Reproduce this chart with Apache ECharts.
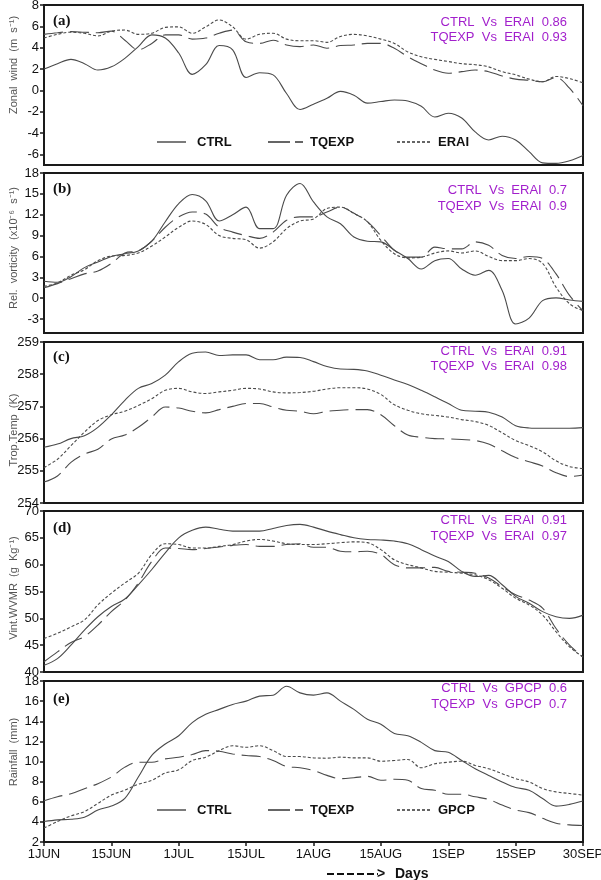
<!DOCTYPE html>
<html>
<head>
<meta charset="utf-8">
<script src="https://cdn.jsdelivr.net/npm/echarts@6/dist/echarts.min.js"></script>
<style>
html,body{margin:0;padding:0;background:#fff;}
#chart{width:601px;height:880px;}
</style>
</head>
<body>
<div id="chart"></div>
<script>
// ---- Data ----
const xDays = [0,3,6,9,12,15,18,21,24,27,30,33,36,39,42,45,48,51,54,57,60,63,66,69,72,75,78,81,84,87,90,93,96,99,102,105,108,111,114,117,120];
const xTickLabels = ['1JUN','15JUN','1JUL','15JUL','1AUG','15AUG','1SEP','15SEP','30SEP'];

// (a) Zonal wind
const aCTRL = [2.0,2.5,2.9,2.5,1.9,2.2,3.0,4.1,5.2,4.9,3.5,1.5,2.4,4.2,3.8,1.2,1.65,1.45,-0.3,-1.8,
  -1.3,-0.75,-0.1,-0.45,-1.2,-1.05,-0.9,-1.0,-1.5,-2.5,-2.15,-2.6,-3.9,-4.65,-4.3,-4.65,-5.75,-6.8,-6.85,-6.6,-6.1];
const aTQEXP = [5.25,5.4,5.5,5.45,5.4,5.55,4.7,3.8,4.4,5.2,5.2,4.8,4.9,5.35,5.65,4.55,4.4,4.7,4.25,4.1,
  4.25,3.95,4.2,4.25,4.4,4.4,3.95,3.15,2.5,1.9,1.6,1.75,1.9,1.75,1.35,1.05,0.95,0.8,1.2,0.2,-1.45];
const aERAI = [4.9,5.25,5.45,5.35,5.1,5.55,5.65,5.25,5.35,5.9,5.95,5.35,5.95,6.6,5.95,4.8,5.25,5.35,4.8,4.65,
  4.65,4.5,5.05,5.25,5.1,4.8,4.4,3.6,3.15,2.9,2.7,2.5,2.4,2.2,1.75,1.45,1.05,0.8,1.3,1.1,0.7];

// (b) Relative vorticity
const bCTRL = [2.45,2.3,3.1,4.4,5.2,6.0,6.4,6.8,8.2,11.0,13.6,14.9,14.0,11.1,12.0,13.1,10.0,10.0,14.8,16.5,
  13.85,11.7,10.7,8.8,8.2,8.1,6.9,5.7,4.2,5.4,5.7,4.2,3.3,4.0,1.1,-3.7,-2.85,-0.35,0.05,-0.25,-0.45];
const bTQEXP = [1.5,2.1,2.8,3.5,3.9,5.0,6.5,6.8,8.2,10.2,11.7,12.4,12.1,10.2,9.5,9.0,8.6,9.5,11.2,11.7,
  11.7,12.4,13.1,12.2,11.0,9.0,6.9,5.9,5.9,7.35,7.1,7.1,8.1,7.6,6.15,5.7,6.0,5.7,3.5,0.4,-1.8];
const bERAI = [1.7,2.2,3.3,4.1,5.4,6.05,6.15,6.5,7.5,8.8,10.2,11.1,10.6,9.0,8.6,8.4,7.2,8.1,10.0,11.1,
  11.4,12.9,13.1,12.2,11.0,8.3,6.4,5.8,5.9,6.5,6.8,6.5,6.8,6.0,5.4,5.4,5.7,5.0,1.6,-0.8,-1.8];

// (c) Tropospheric temperature
const cCTRL = [255.73,255.83,256.0,256.09,256.35,256.74,257.19,257.56,257.71,257.97,258.39,258.65,258.69,258.58,258.6,258.6,258.45,258.45,258.53,258.52,
  258.39,258.24,258.16,258.15,258.1,257.97,257.82,257.68,257.5,257.3,257.09,256.88,256.85,256.82,256.67,256.4,256.33,256.32,256.32,256.32,256.34];
const cTQEXP = [254.65,254.84,255.26,255.52,255.67,255.99,256.11,256.35,256.67,256.98,256.95,256.85,256.8,256.9,257.0,257.09,257.09,256.98,256.88,256.85,
  256.77,256.85,256.88,256.9,256.9,256.74,256.4,256.11,256.04,256.0,255.99,255.97,255.94,255.83,255.62,255.41,255.28,255.15,254.94,254.82,254.87];
const cERAI = [255.1,255.36,255.78,256.2,256.56,256.74,256.85,257.03,257.24,257.5,257.56,257.45,257.4,257.45,257.5,257.56,257.54,257.45,257.42,257.43,
  257.47,257.54,257.58,257.58,257.54,257.37,257.05,256.88,256.77,256.72,256.67,256.59,256.53,256.41,256.18,255.94,255.78,255.59,255.31,255.13,255.07];

// (d) Vertically integrated WVMR
const dCTRL = [41.25,42.5,45.0,47.8,50.3,52.2,53.6,56.25,59.1,62.2,65.0,66.4,67.0,66.6,66.25,66.25,66.25,66.75,67.3,67.5,
  67.0,66.25,65.6,65.0,64.7,64.6,64.4,63.9,62.8,61.6,60.6,58.75,57.8,58.0,56.25,54.1,52.8,51.25,50.3,50.0,50.6];
const dTQEXP = [41.9,43.75,45.5,46.6,48.75,51.25,53.4,56.6,60.6,63.1,63.0,62.8,63.0,63.3,63.6,63.75,63.4,63.4,63.75,63.9,
  63.25,63.25,62.5,62.4,62.5,61.9,60.0,59.4,59.4,59.5,58.75,58.6,58.4,57.5,55.9,54.4,53.4,51.9,48.1,45.0,42.8];
const dERAI = [46.25,47.2,48.4,49.7,52.5,54.7,56.6,58.4,61.9,63.9,63.75,63.1,63.1,63.4,63.75,64.4,64.7,64.4,63.9,63.75,
  63.75,63.9,64.1,64.25,64.1,62.8,60.9,60.0,59.4,58.75,58.6,58.4,58.1,57.2,55.6,53.75,52.5,50.6,47.5,44.7,42.8];

// (e) Rainfall
const eCTRL = [4.03,4.2,4.26,4.46,5.18,5.57,6.33,8.46,10.6,11.74,12.56,13.87,14.69,15.18,15.67,16.0,16.5,16.59,17.48,16.82,
  16.6,16.82,16.0,15.18,14.2,13.7,12.79,12.56,11.9,11.08,10.92,10.1,9.28,8.62,7.97,7.41,7.15,6.33,5.57,5.74,6.07];
const eTQEXP = [6.1,6.5,6.8,7.3,7.8,8.46,9.44,9.93,9.93,10.26,10.43,10.69,11.08,11.02,10.75,10.59,10.49,10.1,9.51,9.38,
  9.11,8.62,8.3,8.39,8.52,8.13,8.23,8.13,7.31,7.15,6.75,6.75,6.49,6.23,5.67,5.18,4.92,4.36,3.87,3.7,3.64];
const eGPCP = [3.38,4.03,4.59,5.02,5.84,6.66,7.15,7.74,8.13,8.85,9.18,10.1,10.43,11.08,11.57,11.41,11.57,11.08,10.49,10.49,
  10.36,10.33,10.43,10.36,10.36,10.03,10.1,10.2,9.38,9.77,9.93,10.03,9.61,9.28,8.79,8.3,7.97,7.31,6.98,6.82,6.66];

// Tick labels for the y axes
const aTicks = [-6,-4,-2,0,2,4,6,8];
const bTicks = [-3,0,3,6,9,12,15,18];
const cTicks = [254,255,256,257,258,259];
const dTicks = [40,45,50,55,60,65,70];
const eTicks = [2,4,6,8,10,12,14,16,18];

const panelLetters = ['(a)','(b)','(c)','(d)','(e)'];
const yNames = ['Zonal  wind  (m  s\u207B\u00B9)','Rel.  vorticity  (x10\u207B\u2076  s\u207B\u00B9)','Trop.Temp  (K)','Vint.WVMR  (g  Kg\u207B\u00B9)','Rainfall  (mm)'];
const corrText = [
  ['CTRL  Vs  ERAI  0.86','TQEXP  Vs  ERAI  0.93'],
  ['CTRL  Vs  ERAI  0.7','TQEXP  Vs  ERAI  0.9'],
  ['CTRL  Vs  ERAI  0.91','TQEXP  Vs  ERAI  0.98'],
  ['CTRL  Vs  ERAI  0.91','TQEXP  Vs  ERAI  0.97'],
  ['CTRL  Vs  GPCP  0.6','TQEXP  Vs  GPCP  0.7']
];
const seriesNames = [['CTRL','TQEXP','ERAI'],['CTRL','TQEXP','ERAI'],['CTRL','TQEXP','ERAI'],['CTRL','TQEXP','ERAI'],['CTRL','TQEXP','GPCP']];

// ---- Layout ----
const panels = [
  {top:5,   height:160, min:-7,  max:8,   ticks:aTicks, data:[aCTRL,aTQEXP,aERAI], nameY:65,  letterY:21,  corrY:[22,37]},
  {top:173, height:160, min:-5,  max:18,  ticks:bTicks, data:[bCTRL,bTQEXP,bERAI], nameY:248, letterY:189, corrY:[190,206]},
  {top:342, height:161, min:254, max:259, ticks:cTicks, data:[cCTRL,cTQEXP,cERAI], nameY:430, letterY:357, corrY:[351,366]},
  {top:511, height:161, min:40,  max:70,  ticks:dTicks, data:[dCTRL,dTQEXP,dERAI], nameY:588, letterY:528, corrY:[520,536]},
  {top:681, height:161, min:2,   max:18,  ticks:eTicks, data:[eCTRL,eTQEXP,eGPCP], nameY:752, letterY:699, corrY:[688,704]}
];
const lineStyles = [
  {type:'solid', width:1.1, color:'#4a4a4a'},
  {type:[19,7], width:1.1, color:'#4a4a4a'},
  {type:[3,2], width:1.1, color:'#4a4a4a'}
];
const FONT = "'Liberation Sans', Arial, sans-serif";
const MAG = '#a21fcc';

const grid=[], xAxis=[], yAxis=[], series=[], graphic=[];
panels.forEach((p,i)=>{
  grid.push({left:44, right:18, top:p.top, height:p.height, show:true, borderColor:'#1a1a1a', borderWidth:2,
    backgroundColor:'#fff', containLabel:false, outerBoundsMode:'none'});
  const last = i===panels.length-1;
  xAxis.push({type:'value', gridIndex:i, min:0, max:120, interval:15,
    axisLine:{show:false}, splitLine:{show:false},
    axisTick:{show:last, inside:false, length:4, lineStyle:{color:'#1a1a1a', width:1.5}},
    axisLabel:{show:last, margin:6, color:'#111', fontFamily:FONT, fontSize:13, hideOverlap:false,
      formatter:(v)=>xTickLabels[Math.round(v/15)] || ''}
  });
  yAxis.push({type:'value', gridIndex:i, min:p.min, max:p.max,
    axisLine:{show:false}, splitLine:{show:false},
    axisTick:{show:true, inside:false, length:4, customValues:p.ticks, lineStyle:{color:'#1a1a1a', width:1.5}},
    axisLabel:{show:true, margin:5, customValues:p.ticks, color:'#111', fontFamily:FONT, fontSize:13}
  });
  p.data.forEach((arr,k)=>{
    series.push({type:'line', name:seriesNames[i][k]+i, xAxisIndex:i, yAxisIndex:i,
      data:xDays.map((d,j)=>[d,arr[j]]), smooth:0.35, showSymbol:false, symbol:'none',
      lineStyle:lineStyles[k], silent:true, animation:false, z:3});
  });
  graphic.push({type:'text', x:14, y:p.nameY, rotation:Math.PI/2,
    style:{text:yNames[i], fill:'#555', font:"11px "+FONT, textAlign:'center', textVerticalAlign:'middle'}});
  graphic.push({type:'text', x:53, y:p.letterY,
    style:{text:panelLetters[i], fill:'#111', font:"bold 15px 'Liberation Serif', 'Times New Roman', serif", textAlign:'left', textVerticalAlign:'middle'}, z:10});
  corrText[i].forEach((t,k)=>{
    graphic.push({type:'text', x:567, y:p.corrY[k],
      style:{text:t, fill:MAG, font:"13px "+FONT, textAlign:'right', textVerticalAlign:'middle'}, z:10});
  });
});

// Legends in panels (a) and (e)
function addLegend(y, names){
  graphic.push({type:'line', shape:{x1:157,y1:y,x2:186,y2:y}, style:{stroke:'#333', lineWidth:1.3}, z:10});
  graphic.push({type:'text', x:197, y:y, style:{text:names[0], fill:'#111', font:"bold 13px "+FONT, textVerticalAlign:'middle'}, z:10});
  graphic.push({type:'line', shape:{x1:268,y1:y,x2:303,y2:y}, style:{stroke:'#333', lineWidth:1.3, lineDash:[22,5]}, z:10});
  graphic.push({type:'text', x:310, y:y, style:{text:names[1], fill:'#111', font:"bold 13px "+FONT, textVerticalAlign:'middle'}, z:10});
  graphic.push({type:'line', shape:{x1:397,y1:y,x2:430,y2:y}, style:{stroke:'#333', lineWidth:1.3, lineDash:[3,2]}, z:10});
  graphic.push({type:'text', x:438, y:y, style:{text:names[2], fill:'#111', font:"bold 13px "+FONT, textVerticalAlign:'middle'}, z:10});
}
addLegend(142, seriesNames[0]);
addLegend(810, seriesNames[4]);

// "-----> Days"
graphic.push({type:'line', shape:{x1:327,y1:874,x2:378,y2:874}, style:{stroke:'#111', lineWidth:2, lineDash:[7,3]}, z:10});
graphic.push({type:'text', x:377, y:874, style:{text:'>', fill:'#111', font:"bold 14px "+FONT, textVerticalAlign:'middle'}, z:10});
graphic.push({type:'text', x:395, y:874, style:{text:'Days', fill:'#111', font:"bold 14px "+FONT, textVerticalAlign:'middle'}, z:10});

const chart = echarts.init(document.getElementById('chart'), null, {renderer:'canvas'});
chart.setOption({animation:false, backgroundColor:'#fff', grid, xAxis, yAxis, series, graphic});
</script>
</body>
</html>
